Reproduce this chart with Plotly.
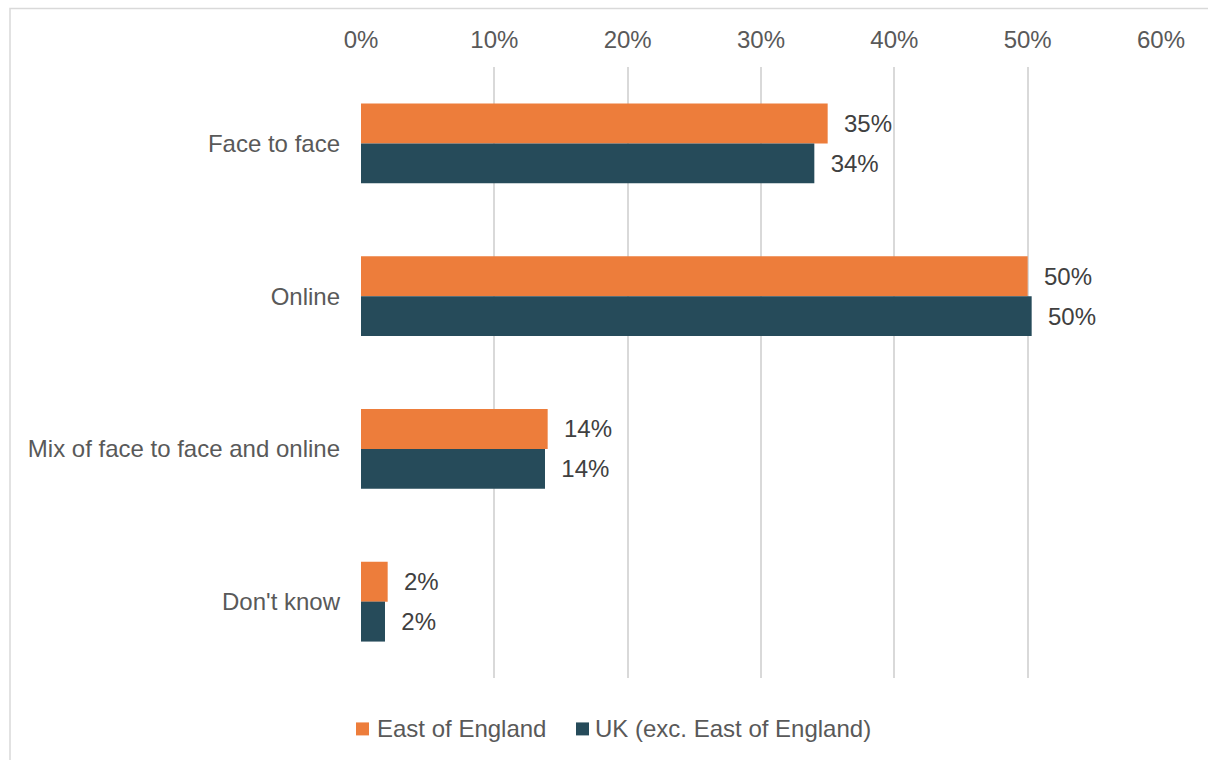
import plotly.graph_objects as go

categories = ["Face to face", "Online", "Mix of face to face and online", "Don't know"]
east_of_england = [35, 50, 14, 2]
uk_exc_east = [34, 50.3, 13.8, 1.8]
series_names = ["East of England", "UK (exc. East of England)"]
colors = ["#ED7D3B", "#264B5A"]
x_ticks = [0, 10, 20, 30, 40, 50, 60]

FONT = "Liberation Sans, Arial, sans-serif"
FS = 24

fig = go.Figure()
for name, vals, col in zip(series_names, [east_of_england, uk_exc_east], colors):
    fig.add_trace(go.Bar(
        y=categories, x=vals, name=name, orientation="h",
        marker=dict(color=col, line=dict(width=0)),
        text=[f"{round(v)}%" for v in vals],
        texttemplate="  %{text}",
        textposition="outside",
        constraintext="none",
        cliponaxis=False,
        textfont=dict(family=FONT, size=FS, color="#404040"),
        showlegend=False,
    ))


def px_x(px):
    return (px - 361) / 800


def px_y(py):
    return (678.5 - py) / 612


# manual legend (square swatch + label), laid out like the reference
legend_items = [(356, 375), (576, 593)]
shapes = [dict(
    type="rect", xref="paper", yref="paper",
    x0=-0.43875, x1=1.2, y0=-0.3, y1=1.0956,
    line=dict(color="#D9D9D9", width=1.5), fillcolor="rgba(0,0,0,0)",
    layer="below",
)]
annotations = []
for (sq_x, tx_x), name, col in zip(legend_items, series_names, colors):
    shapes.append(dict(
        type="rect", xref="paper", yref="paper",
        x0=px_x(sq_x), x1=px_x(sq_x + 13), y0=px_y(736), y1=px_y(723),
        line=dict(width=0), fillcolor=col,
    ))
    annotations.append(dict(
        text=name, xref="paper", yref="paper", x=px_x(tx_x), y=px_y(729),
        xanchor="left", yanchor="middle", showarrow=False,
        font=dict(family=FONT, size=FS, color="#595959"),
    ))

fig.update_layout(
    width=1208, height=760,
    margin=dict(l=361, r=47, t=67, b=82),
    paper_bgcolor="white", plot_bgcolor="white",
    barmode="group", bargap=0.477, bargroupgap=0,
    font=dict(family=FONT, size=FS, color="#595959"),
    xaxis=dict(
        side="top", range=[0, 60], tickvals=x_ticks,
        ticktext=[f"{t}%" for t in x_ticks],
        showgrid=True, gridcolor="#D9D9D9", gridwidth=1.5,
        zeroline=False, showline=False, ticks="",
        ticklabelstandoff=13,
        tickfont=dict(family=FONT, size=FS, color="#595959"),
    ),
    yaxis=dict(
        autorange="reversed", showgrid=False, zeroline=False,
        showline=False, ticks="", ticklabelstandoff=20,
        tickfont=dict(family=FONT, size=FS, color="#595959"),
    ),
    showlegend=False,
    shapes=shapes,
    annotations=annotations,
)

fig.write_html("out.html")
